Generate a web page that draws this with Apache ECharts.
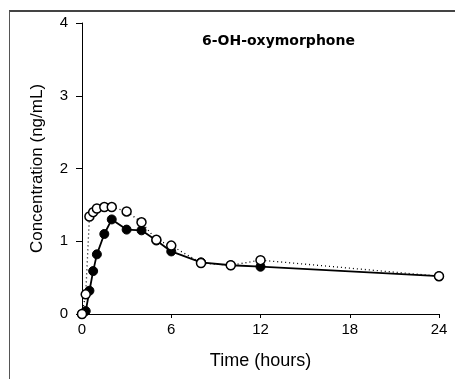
<!DOCTYPE html>
<html style="height: 100%">
<head>
    <meta charset="utf-8">
    <style>
        html,body {
            height: 100%;
            margin: 0;
            padding: 0;
            overflow: hidden;
            background: #fff;
        }
        .frame {
            position: absolute;
            left: 9px;
            top: 10px;
            right: 0;
            bottom: 0;
            border-left: 1px solid #555;
            border-top: 2px solid #444;
        }
        .container {
            position: absolute;
            left: 0;
            top: 0;
            width: 455px;
            height: 379px;
        }
    </style>
</head>
<body>
    <div class="frame"></div>
    <div id="container" class="container"></div>

    <script src="https://cdn.jsdelivr.net/npm/echarts/dist/echarts.min.js"></script>
    <script>
        // sampling times (hours)
        var timeOpen = [0, 0.25, 0.5, 0.75, 1, 1.5, 2, 3, 4, 5, 6, 8, 10, 12, 24];
        var concOpen = [0, 0.27, 1.34, 1.40, 1.45, 1.47, 1.47, 1.41, 1.26, 1.02, 0.94, 0.70, 0.67, 0.74, 0.52];
        var timeFilled = [0, 0.25, 0.5, 0.75, 1, 1.5, 2, 3, 4, 5, 6, 8, 10, 12, 24];
        var concFilled = [0, 0.04, 0.32, 0.59, 0.82, 1.10, 1.30, 1.16, 1.15, 1.01, 0.86, 0.71, 0.67, 0.65, 0.52];
        var xTicks = [0, 6, 12, 18, 24];
        var yTicks = [0, 1, 2, 3, 4];

        function pairs(xs, ys) {
            return xs.map(function (x, i) { return [x, ys[i]]; });
        }

        var myChart = echarts.init(document.getElementById('container'));
        var font = 'Liberation Sans, Arial, sans-serif';
        var option = {
            animation: false,
            title: {
                text: '6-OH-oxymorphone',
                left: 197,
                top: 29,
                textStyle: { fontFamily: 'DejaVu Sans', fontSize: 14, fontWeight: 'bold', color: '#000' }
            },
            grid: { left: 82, right: 16, top: 23, bottom: 65 },
            xAxis: {
                type: 'value',
                min: xTicks[0],
                max: xTicks[xTicks.length - 1],
                interval: 6,
                name: 'Time (hours)',
                nameLocation: 'middle',
                nameGap: 38,
                nameTextStyle: { fontFamily: font, fontSize: 18, color: '#000' },
                axisLine: { lineStyle: { color: '#000', width: 1 } },
                axisTick: { length: 4, lineStyle: { color: '#000' } },
                axisLabel: { fontFamily: font, fontSize: 15, color: '#000', margin: 8 },
                splitLine: { show: false }
            },
            yAxis: {
                type: 'value',
                min: yTicks[0],
                max: yTicks[yTicks.length - 1],
                interval: 1,
                name: 'Concentration (ng/mL)',
                nameLocation: 'middle',
                nameGap: 36,
                nameTextStyle: { fontFamily: font, fontSize: 17, color: '#000' },
                axisLine: { show: true, lineStyle: { color: '#000', width: 1 } },
                axisTick: { show: true, length: 6, lineStyle: { color: '#000' } },
                axisLabel: { fontFamily: font, fontSize: 15, color: '#000', margin: 14 },
                splitLine: { show: false }
            },
            series: [
                {
                    type: 'line',
                    name: 'open',
                    data: pairs(timeOpen, concOpen),
                    symbol: 'circle',
                    symbolSize: 9,
                    lineStyle: { color: '#000', width: 1.3, type: [1, 3] },
                    itemStyle: { color: '#fff', borderColor: '#000', borderWidth: 1.5 },
                    z: 2
                },
                {
                    type: 'line',
                    name: 'filled',
                    data: pairs(timeFilled, concFilled),
                    symbol: 'circle',
                    symbolSize: 9,
                    lineStyle: { color: '#000', width: 1.8 },
                    itemStyle: { color: '#000', borderColor: '#000', borderWidth: 1 },
                    z: 1
                }
            ]
        };
        myChart.setOption(option);
    </script>
</body>
</html>
